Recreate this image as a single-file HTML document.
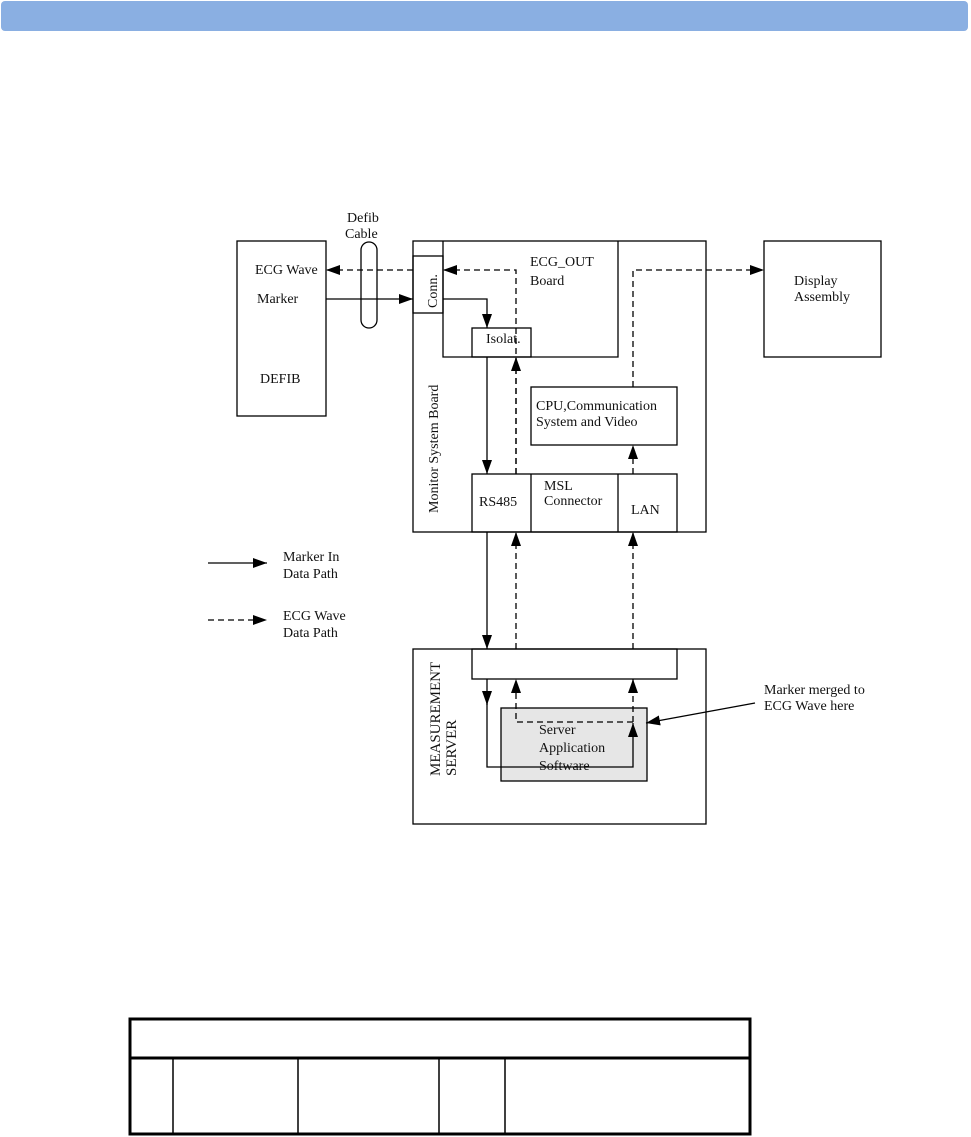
<!DOCTYPE html>
<html><head><style>
html,body{margin:0;padding:0;background:#fff;}
svg{display:block;}
text{font-family:"Liberation Serif",serif;font-size:14px;fill:#111;}
</style></head><body>
<svg width="971" height="1137" viewBox="0 0 971 1137" xmlns="http://www.w3.org/2000/svg">
<defs>
<marker id="a" markerWidth="14" markerHeight="10" refX="14" refY="5" orient="auto" markerUnits="userSpaceOnUse">
<path d="M0,0 L14,5 L0,10 Z" fill="#000"/></marker>
</defs>
<rect x="1" y="1" width="967" height="30" rx="4" fill="#8aafe2"/>
<g fill="none" stroke="#000" stroke-width="1.3">
<rect x="237" y="241" width="89" height="175"/>
<rect x="413" y="241" width="293" height="291"/>
<polyline points="443,241 443,357 618,357 618,241"/>
<rect x="413" y="256" width="30" height="57"/>
<rect x="472" y="328" width="59" height="29"/>
<rect x="531" y="387" width="146" height="58"/>
<rect x="472" y="474" width="205" height="58"/>
<line x1="531" y1="474" x2="531" y2="532"/>
<line x1="618" y1="474" x2="618" y2="532"/>
<rect x="764" y="241" width="117" height="116"/>
<rect x="361" y="242" width="16" height="86" rx="8"/>
<rect x="413" y="649" width="293" height="175"/>
<rect x="472" y="649" width="205" height="30"/>
</g>
<rect x="501" y="708" width="146" height="73" fill="#e6e6e6" stroke="#000" stroke-width="1.3"/>
<g fill="none" stroke="#000" stroke-width="1.3">
<line x1="326" y1="299" x2="413" y2="299" marker-end="url(#a)"/>
<polyline points="443,299 487,299 487,328" marker-end="url(#a)"/>
<line x1="487" y1="357" x2="487" y2="474" marker-end="url(#a)"/>
<line x1="487" y1="532" x2="487" y2="649" marker-end="url(#a)"/>
<line x1="487" y1="679" x2="487" y2="705" marker-end="url(#a)"/>
<polyline points="487,700 487,767 633,767 633,723" marker-end="url(#a)"/>
<line x1="755" y1="703" x2="646" y2="723" marker-end="url(#a)"/>
<line x1="208" y1="563" x2="267" y2="563" marker-end="url(#a)"/>
</g>
<g fill="none" stroke="#000" stroke-width="1.3" stroke-dasharray="6,4">
<line x1="413" y1="270" x2="326" y2="270" marker-end="url(#a)"/>
<polyline points="516,474 516,270 443,270" marker-end="url(#a)"/>
<line x1="516" y1="474" x2="516" y2="357" marker-end="url(#a)"/>
<polyline points="633,387 633,270 764,270" marker-end="url(#a)"/>
<line x1="633" y1="474" x2="633" y2="445" marker-end="url(#a)"/>
<line x1="516" y1="649" x2="516" y2="532" marker-end="url(#a)"/>
<line x1="633" y1="649" x2="633" y2="532" marker-end="url(#a)"/>
<polyline points="633,722 516,722 516,679" marker-end="url(#a)"/>
<line x1="633" y1="722" x2="633" y2="679" marker-end="url(#a)"/>
<line x1="208" y1="620" x2="267" y2="620" marker-end="url(#a)"/>
</g>
<text x="347" y="222">Defib</text>
<text x="345" y="238">Cable</text>
<text x="255" y="274">ECG Wave</text>
<text x="257" y="303">Marker</text>
<text x="260" y="383">DEFIB</text>
<text x="530" y="266">ECG_OUT</text>
<text x="530" y="285">Board</text>
<text x="486" y="343">Isolat.</text>
<text transform="translate(437,308) rotate(-90)">Conn.</text>
<text transform="translate(438,513) rotate(-90)">Monitor System Board</text>
<text x="536" y="410">CPU,Communication</text>
<text x="536" y="426">System and Video</text>
<text x="544" y="490">MSL</text>
<text x="544" y="505">Connector</text>
<text x="479" y="506">RS485</text>
<text x="631" y="514">LAN</text>
<text x="794" y="285">Display</text>
<text x="794" y="301">Assembly</text>
<text x="283" y="561">Marker In</text>
<text x="283" y="578">Data Path</text>
<text x="283" y="620">ECG Wave</text>
<text x="283" y="637">Data Path</text>
<text x="764" y="694">Marker merged to</text>
<text x="764" y="710">ECG Wave here</text>
<text x="539" y="734">Server</text>
<text x="539" y="752">Application</text>
<text x="539" y="770">Software</text>
<text transform="translate(440,776) rotate(-90)" style="font-size:15px">MEASUREMENT</text>
<text transform="translate(456,776) rotate(-90)" style="font-size:15px">SERVER</text>
<g fill="none" stroke="#000">
<rect x="130" y="1019" width="620" height="115" stroke-width="3"/>
<line x1="130" y1="1058" x2="750" y2="1058" stroke-width="3"/>
<line x1="173" y1="1058" x2="173" y2="1134" stroke-width="1.5"/>
<line x1="298" y1="1058" x2="298" y2="1134" stroke-width="1.5"/>
<line x1="439" y1="1058" x2="439" y2="1134" stroke-width="1.5"/>
<line x1="505" y1="1058" x2="505" y2="1134" stroke-width="1.5"/>
</g>
</svg>
</body></html>
